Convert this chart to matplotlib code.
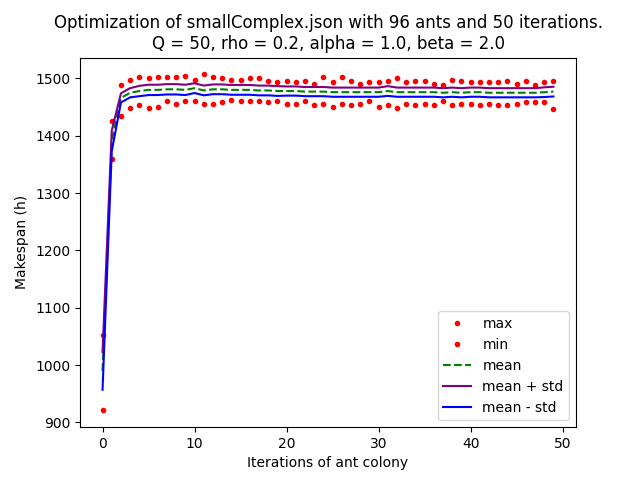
import numpy as np
import matplotlib
matplotlib.use("Agg")
import matplotlib.pyplot as plt

iterations = np.arange(50)

max_vals = [1053, 1425, 1489, 1498, 1503, 1500, 1502, 1502, 1503, 1505,
            1498, 1507, 1503, 1500, 1498, 1498, 1500, 1500, 1496, 1493,
            1495, 1493, 1496, 1491, 1502, 1493, 1503, 1495, 1491, 1493,
            1493, 1495, 1500, 1493, 1496, 1495, 1491, 1489, 1498, 1495,
            1493, 1493, 1493, 1493, 1495, 1491, 1495, 1489, 1493, 1496]

min_vals = [921, 1360, 1434, 1449, 1453, 1448, 1451, 1461, 1455, 1460,
            1460, 1456, 1456, 1458, 1462, 1460, 1460, 1460, 1458, 1460,
            1456, 1456, 1460, 1453, 1455, 1451, 1456, 1453, 1455, 1460,
            1451, 1453, 1449, 1456, 1453, 1455, 1453, 1460, 1453, 1455,
            1455, 1453, 1455, 1453, 1453, 1456, 1458, 1458, 1458, 1446]

mean_vals = [990, 1391, 1466, 1475, 1478, 1480, 1480, 1481, 1481, 1480,
             1483, 1479, 1481, 1481, 1480, 1480, 1480, 1479, 1479, 1478,
             1478, 1478, 1477, 1477, 1477, 1476, 1476, 1476, 1476, 1476,
             1476, 1478, 1476, 1476, 1476, 1476, 1476, 1475, 1476, 1475,
             1476, 1476, 1475, 1475, 1475, 1475, 1475, 1475, 1476, 1477]

std_vals = [33, 18, 8, 8, 9, 9, 9, 9, 9, 9,
            8.5, 8.5, 8.5, 8.5, 8.5, 8.5, 8.5, 8.5, 8.5, 8.5,
            8, 8, 8, 8, 8, 8, 8, 8, 8, 8,
            8, 8.5, 8, 8, 8, 8, 8, 8, 8, 8,
            8, 8, 8, 8, 8, 8, 8, 8, 8.5, 8.5]

mean = np.array(mean_vals)
std = np.array(std_vals)

plt.figure(figsize=(6.4, 4.8), dpi=100)
plt.plot(iterations, max_vals, 'r.', label="max")
plt.plot(iterations, min_vals, 'r.', label="min")
plt.plot(iterations, mean, 'g--', label="mean")
plt.plot(iterations, mean + std, color='purple', label="mean + std")
plt.plot(iterations, mean - std, color='blue', label="mean - std")
plt.title("Optimization of smallComplex.json with 96 ants and 50 iterations.\n"
          "Q = 50, rho = 0.2, alpha = 1.0, beta = 2.0")
plt.xlabel("Iterations of ant colony")
plt.ylabel("Makespan (h)")
plt.legend()
plt.savefig("out.png")
plt.close()
